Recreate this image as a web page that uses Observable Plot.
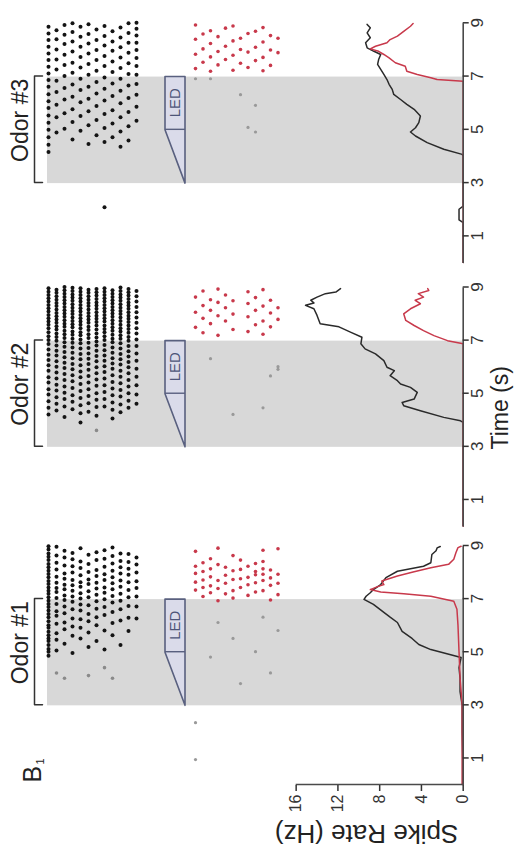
<!DOCTYPE html>
<html><head><meta charset="utf-8">
<script src="https://cdn.jsdelivr.net/npm/d3@7"></script>
<script src="https://cdn.jsdelivr.net/npm/@observablehq/plot@0.6"></script>
<style>
html,body{margin:0;padding:0;background:#fff;overflow:hidden;width:514px;height:857px;}
#fig{position:absolute;left:0;top:0;width:857px;height:514px;display:flex;transform-origin:0 0;transform:translate(0px,857px) rotate(-90deg);}
#fig svg{display:block;overflow:visible;}
</style></head><body><div id="fig"></div>
<script>
// ---------------- DATA ----------------
const odorLabels = ["Odor #1", "Odor #2", "Odor #3"];
const panelLetter = "B";
const panelIndex = "1";
const timeLabel = "Time (s)";
const rateLabel = "Spike Rate (Hz)";
const ledLabel = "LED";
const timeTicks = [1, 3, 5, 7, 9];
const rateTicks = [0, 4, 8, 12, 16];
const odorWindow = [3, 7];
const ledRampEnd = 5;

// spike-rate traces [time (s), rate (Hz)] : control (black) and LED (red)
const ctrlRate1 = [[0,0.05],[1,0.05],[2,0.1],[3,0.1],[3.5,0.3],[4.0,0.3],[4.4,0.4],[4.78,0.2],[5.08,3.1],[5.27,4.25],[5.5,4.9],[5.77,5.85],[6.1,6.3],[6.3,7.0],[6.48,7.6],[6.78,8.6],[6.97,9.5],[7.09,9.3],[7.22,8.9],[7.34,8.6],[7.53,7.9],[7.79,7.4],[8.03,6.3],[8.22,3.8],[8.35,3.1],[8.66,3.0],[8.8,2.6],[8.91,2.5],[8.96,2.2]];
const ledRate1 = [[0,0.1],[2,0.1],[3,0.1],[4,0.3],[5,0.4],[6,0.5],[6.6,0.6],[6.9,0.9],[7.09,3.1],[7.18,5.7],[7.25,7.9],[7.34,8.9],[7.45,8.2],[7.53,7.6],[7.66,7.8],[7.85,6.3],[8.0,4.8],[8.16,3.1],[8.29,1.4],[8.48,0.9],[8.73,0.7],[8.92,0.5],[8.97,0.2]];
const ctrlRate2 = [[0,0],[3.9,0],[3.96,0.26],[4.09,1.86],[4.34,4.1],[4.53,5.7],[4.65,5.85],[4.78,4.7],[5.03,4.4],[5.22,5.05],[5.35,6.0],[5.47,6.3],[5.66,7.0],[5.85,6.6],[5.98,7.3],[6.23,7.6],[6.48,8.4],[6.67,9.4],[6.86,9.8],[7.11,9.7],[7.3,10.8],[7.5,11.9],[7.62,13.7],[7.93,14.0],[8.18,14.3],[8.31,15.1],[8.4,14.3],[8.5,14.6],[8.62,14.0],[8.75,13.2],[8.81,12.2],[8.94,11.75]];
const ledRate2 = [[0,0],[6.86,0],[6.98,1.5],[7.17,2.8],[7.36,3.8],[7.55,4.7],[7.74,5.5],[7.99,5.7],[8.18,5.05],[8.37,4.1],[8.5,4.6],[8.62,3.8],[8.75,4.3],[8.87,3.3],[8.94,3.4]];
const ctrlRate3 = [[0,0],[1.5,0],[1.6,0.4],[2.0,0.4],[2.12,0],[4.0,0],[4.06,0.1],[4.25,1.86],[4.5,3.45],[4.75,4.57],[4.9,5.05],[5.06,4.57],[5.25,4.25],[5.5,4.1],[5.75,4.7],[5.94,5.4],[6.12,6.0],[6.31,6.65],[6.5,6.8],[6.69,7.1],[6.87,7.3],[7.06,7.6],[7.25,7.9],[7.44,8.2],[7.62,8.1],[7.81,7.9],[7.93,8.55],[8.06,9.2],[8.25,9.35],[8.44,8.9],[8.62,9.2],[8.81,8.9],[8.94,9.2]];
const ledRate3 = [[0,0],[6.81,0],[6.87,2.5],[6.94,3.1],[7.06,4.4],[7.18,5.4],[7.37,5.55],[7.5,6.5],[7.68,7.1],[7.81,7.6],[7.93,8.1],[8.02,8.9],[8.12,8.4],[8.25,7.3],[8.37,7.0],[8.5,6.3],[8.68,5.7],[8.87,5.05],[8.97,4.8]];

// rasters: one string of spike times (s) per trial
const ctrlSpikes1 = [
 "4.85 5.0 5.1 5.25 5.4 5.5 5.62 5.75 5.9 6.0 6.15 6.3 6.42 6.55 6.68 6.8 6.92 7.05 7.18 7.3 7.42 7.55 7.66 7.8 7.93 8.05 8.18 8.3 8.45 8.58 8.7 8.85 8.97",
 "5.05 5.45 5.7 6.05 6.35 6.52 6.8 7.02 7.25 7.4 7.6 7.82 8.1 8.35 8.62 8.95",
 "5.3 5.85 6.1 6.45 6.7 6.95 7.12 7.35 7.52 7.75 7.95 8.25 8.55 8.8",
 "4.95 5.6 5.95 6.25 6.6 6.88 7.08 7.3 7.5 7.7 7.98 8.22 8.48 8.72",
 "5.5 5.9 6.22 6.55 6.78 7.0 7.2 7.45 7.62 7.88 8.15 8.4 8.9",
 "5.18 5.72 6.15 6.42 6.75 7.05 7.28 7.55 7.72 8.0 8.3 8.65",
 "5.4 6.0 6.3 6.62 6.9 7.15 7.38 7.6 7.85 8.08 8.45 8.75",
 "5.08 5.8 6.38 6.68 6.98 7.22 7.42 7.7 7.92 8.2 8.5 8.82",
 "5.62 6.08 6.5 6.85 7.1 7.35 7.58 7.8 8.05 8.32 8.6 8.92",
 "5.25 6.18 6.6 6.92 7.18 7.45 7.68 7.95 8.18 8.42 8.7",
 "5.78 6.28 6.72 7.05 7.32 7.62 7.9 8.12 8.38 8.68",
 "6.25 6.7 7.08 7.4 7.65 7.98 8.28 8.55"];
const ctrlSpikes2 = [
 "4.2 4.45 4.7 4.95 5.15 5.4 5.6 5.85 6.05 6.25 6.45 6.65 6.85 7.0 7.15 7.3 7.45 7.58 7.7 7.82 7.95 8.08 8.2 8.32 8.45 8.58 8.7 8.82 8.95",
 "4.35 4.6 4.85 5.1 5.32 5.55 5.78 6.0 6.2 6.42 6.6 6.8 6.98 7.12 7.25 7.4 7.52 7.65 7.78 7.9 8.02 8.15 8.28 8.4 8.52 8.65 8.78 8.9",
 "4.1 4.5 4.78 5.02 5.25 5.5 5.72 5.95 6.15 6.35 6.55 6.75 6.92 7.08 7.22 7.35 7.5 7.62 7.75 7.88 8.0 8.12 8.25 8.38 8.5 8.62 8.75 8.88 9.0",
 "4.4 4.68 4.92 5.2 5.45 5.68 5.9 6.1 6.32 6.52 6.72 6.9 7.05 7.2 7.32 7.48 7.6 7.72 7.85 7.98 8.1 8.22 8.35 8.48 8.6 8.72 8.85 8.97",
 "3.9 4.25 4.55 4.82 5.08 5.35 5.6 5.82 6.05 6.28 6.48 6.68 6.88 7.02 7.18 7.3 7.45 7.58 7.7 7.82 7.95 8.08 8.2 8.32 8.45 8.58 8.7 8.82 8.95",
 "4.3 4.62 4.9 5.15 5.4 5.65 5.88 6.1 6.3 6.5 6.7 6.9 7.08 7.22 7.38 7.5 7.65 7.78 7.9 8.02 8.15 8.28 8.4 8.52 8.65 8.78 8.9",
 "4.15 4.48 4.75 5.0 5.28 5.52 5.75 5.98 6.2 6.4 6.6 6.8 6.95 7.1 7.25 7.4 7.55 7.68 7.8 7.92 8.05 8.18 8.3 8.42 8.55 8.68 8.8 8.92",
 "4.5 4.78 5.05 5.3 5.55 5.8 6.02 6.22 6.42 6.62 6.82 7.0 7.15 7.3 7.42 7.55 7.7 7.82 7.95 8.08 8.2 8.32 8.45 8.58 8.7 8.82 8.95",
 "4.05 4.38 4.65 4.92 5.18 5.42 5.68 5.92 6.12 6.32 6.52 6.72 6.92 7.05 7.2 7.35 7.48 7.62 7.75 7.88 8.0 8.12 8.25 8.38 8.5 8.62 8.75 8.88",
 "4.28 4.58 4.88 5.12 5.38 5.62 5.85 6.08 6.28 6.48 6.68 6.88 7.05 7.18 7.32 7.45 7.58 7.72 7.85 7.98 8.1 8.22 8.35 8.48 8.6 8.72 8.85 8.98",
 "4.45 4.72 5.0 5.25 5.5 5.75 5.98 6.18 6.38 6.58 6.78 6.98 7.12 7.28 7.42 7.55 7.68 7.8 7.92 8.05 8.18 8.3 8.42 8.55 8.68 8.8 8.92",
 "4.6 4.95 5.3 5.62 5.92 6.22 6.5 6.78 7.02 7.25 7.45 7.65 7.85 8.05 8.25 8.45 8.65 8.85"];
const ctrlSpikes3 = [
 "4.15 4.42 4.7 4.98 5.25 5.52 5.8 6.05 6.32 6.6 6.85 7.1 7.35 7.6 7.85 8.1 8.35 8.6 8.85",
 "4.88 5.45 5.92 6.4 6.82 7.25 7.62 8.0 8.38 8.72",
 "5.02 5.6 6.12 6.55 7.0 7.42 7.8 8.2 8.55 8.92",
 "4.62 5.28 5.75 6.22 6.68 7.12 7.5 7.92 8.3 8.65 8.98",
 "4.95 5.5 6.02 6.48 6.9 7.32 7.72 8.1 8.48 8.85",
 "4.45 5.15 5.68 6.15 6.6 7.05 7.45 7.85 8.22 8.58 8.95",
 "4.78 5.35 5.88 6.35 6.78 7.2 7.6 7.98 8.35 8.75",
 "2.07 4.52 5.05 5.58 6.08 6.52 6.95 7.38 7.75 8.15 8.5 8.88",
 "4.7 5.22 5.72 6.25 6.72 7.15 7.55 7.95 8.3 8.68",
 "4.35 4.92 5.45 5.98 6.45 6.9 7.3 7.7 8.08 8.45 8.82",
 "4.58 5.12 5.65 6.18 6.65 7.08 7.48 7.88 8.25 8.62 8.98",
 "5.32 5.85 6.3 6.7 7.05 7.38 7.68 7.98 8.25 8.52 8.78 9.0"];
const ledSpikes1 = [
 "7.32 7.62 7.95 8.22 8.78", "7.08 7.42 7.7 8.02 8.35", "7.22 7.48 7.82 8.12 8.5", "6.92 7.38 7.68 8.28 8.9",
 "7.18 7.58 7.88 8.18", "7.02 7.3 7.72 8.05 8.62", "7.42 7.75 8.1 8.45", "7.12 7.52 7.8 8.22",
 "7.25 7.6 7.9 8.02 8.32", "7.3 7.68 7.92 8.12 8.4 8.82", "6.95 7.5 7.78 8.08", "7.15 7.58 7.92 8.88"];
const ledSpikes2 = [
 "7.48 8.05 8.62", "7.28 7.82 8.3 8.85", "7.62 8.12 8.52", "7.18 7.92 8.42 8.92",
 "7.72 8.22 8.7", "7.4 7.98 8.48", "", "7.32 7.88 8.38 8.82",
 "7.58 8.12 8.6", "7.22 7.72 8.28 8.9", "7.5 8.02 8.5", "7.78 8.22"];
const ledSpikes3 = [
 "7.28 7.82 8.38 8.92", "7.52 8.02 8.58", "7.18 7.72 8.22 8.7", "7.42 7.92 8.48",
 "7.62 8.12 8.8", "7.22 7.78 8.32 8.88", "7.48 8.0 8.42", "7.32 7.9 8.6",
 "7.58 8.08 8.68", "7.2 7.7 8.28 8.82", "7.4 7.98 8.52", "7.88 8.42"];
// faint (grey-looking) spikes [trial, time]
const ctrlFaint1 = [[1,4.2],[2,4.0],[5,4.1],[7,4.4],[8,4.0]];
const ctrlFaint2 = [[6,3.6]];
const ctrlFaint3 = [];
const ledFaint1 = [[0,0.94],[0,2.33],[2,4.8],[3,6.1],[5,5.5],[6,3.8],[8,5.0],[9,6.3],[10,4.2],[11,5.8]];
const ledFaint2 = [[2,6.3],[5,4.2],[9,4.45],[10,5.65],[11,6.0],[11,5.9]];
const ledFaint3 = [[0,6.9],[2,6.9],[6,6.3],[7,5.07],[8,5.9],[8,4.9]];

// ---------------- LAYOUT ----------------
const BASE = 462.7, PXHZ = 10.44, H = 514;
const yOf = v => (BASE - v) / PXHZ;   // vertical layout px -> y units
const layout = [
  {w: 320, ml: 72, mr: 9},
  {w: 262, ml: 10.5, mr: 12.5},
  {w: 275, ml: 12, mr: 23.3}
];
const BLACK_V0 = 48, BLACK_STEP = 8, RED_V0 = 195, RED_STEP = 7.5;
const axisCol = "#4a4a4a", redCol = "#c8394b", ledStroke = "#59607f";

const toDots = (trials, v0, step) => trials.flatMap((s, i) =>
  s.trim().split(/\s+/).filter(Boolean).map(Number).map(t => ({t, y: yOf(v0 + step * i)})));
const toPairs = (arr, v0, step) => arr.map(([i, t]) => ({t, y: yOf(v0 + step * i)}));

const sets = [
  {odor: odorLabels[0], ctrl: ctrlRate1, led: ledRate1, cs: ctrlSpikes1, ls: ledSpikes1, cf: ctrlFaint1, lf: ledFaint1},
  {odor: odorLabels[1], ctrl: ctrlRate2, led: ledRate2, cs: ctrlSpikes2, ls: ledSpikes2, cf: ctrlFaint2, lf: ledFaint2},
  {odor: odorLabels[2], ctrl: ctrlRate3, led: ledRate3, cs: ctrlSpikes3, ls: ledSpikes3, cf: ctrlFaint3, lf: ledFaint3}
];

function panel(k) {
  const L = layout[k], S = sets[k];
  const [t0, t1] = odorWindow;
  const ledTop = yOf(165), ledBot = yOf(185);
  const marks = [
    Plot.rect([odorWindow], {x1: d => d[0], x2: d => d[1], y1: 0, y2: yOf(47), fill: "#d8d8d8"}),
    Plot.line([{t: t0, y: yOf(42)}, {t: t0, y: yOf(34)}, {t: t1, y: yOf(34)}, {t: t1, y: yOf(42)}],
      {x: "t", y: "y", stroke: "#333", strokeWidth: 1.5}),
    Plot.text([S.odor], {x: (t0 + t1) / 2, y: yOf(20), dx: 9, text: d => d, fontSize: 23, fill: "#222"}),
    Plot.dot(toPairs(S.cf, BLACK_V0, BLACK_STEP), {x: "t", y: "y", r: 1.8, fill: "#8a8a8a"}),
    Plot.dot(toDots(S.cs, BLACK_V0, BLACK_STEP), {x: "t", y: "y", r: 2.0, fill: "#141414"}),
    Plot.dot(toPairs(S.lf, RED_V0, RED_STEP), {x: "t", y: "y", r: 1.6, fill: "#999"}),
    Plot.dot(toDots(S.ls, RED_V0, RED_STEP), {x: "t", y: "y", r: 1.8, fill: redCol}),
    Plot.areaY([{t: t0, top: ledBot}, {t: ledRampEnd, top: ledTop}, {t: t1, top: ledTop}],
      {x: "t", y1: ledBot, y2: "top", fill: "#dadbea", stroke: ledStroke, strokeWidth: 1.6, curve: "linear"}),
    Plot.ruleX([ledRampEnd], {y1: ledBot, y2: ledTop, stroke: ledStroke, strokeWidth: 1.4}),
    Plot.text([ledLabel], {x: (ledRampEnd + t1) / 2, y: (ledTop + ledBot) / 2, text: d => d, fontSize: 15, fill: "#4d5578"}),
    Plot.line(S.ctrl, {x: d => d[0], y: d => d[1], stroke: "#2a2a2a", strokeWidth: 1.5}),
    Plot.line(S.led, {x: d => d[0], y: d => d[1], stroke: redCol, strokeWidth: 1.5}),
    Plot.ruleY([0], {x1: 0, x2: 9, stroke: axisCol, strokeWidth: 1.6}),
    Plot.axisX({ticks: timeTicks, tickSize: 6, tickPadding: 2, fontSize: 17, label: null, color: "#333", strokeWidth: 1.5})
  ];
  if (k === 0) {
    marks.push(
      Plot.ruleX([0], {y1: 0, y2: 16, stroke: axisCol, strokeWidth: 1.6}),
      Plot.axisY({ticks: rateTicks, tickSize: 6, tickPadding: 4, fontSize: 16, label: null, color: "#333", strokeWidth: 1.5}),
      Plot.text([rateLabel], {x: 0, y: yOf(366), dx: -48.5, rotate: -90, text: d => d, fontSize: 26, fill: "#222"}),
      Plot.text([panelLetter], {x: 0, y: yOf(40), dx: 2, text: d => d, textAnchor: "start", lineAnchor: "bottom", fontSize: 25, fill: "#222"}),
      Plot.text([panelIndex], {x: 0, y: yOf(43), dx: 20, text: d => d, textAnchor: "start", lineAnchor: "bottom", fontSize: 11, fill: "#222"})
    );
  }
  if (k === 1) {
    marks.push(Plot.text([timeLabel], {x: 4.45, y: 0, dy: 37, text: d => d, fontSize: 23, fill: "#222"}));
  }
  const opts = {
    width: L.w, height: H,
    marginLeft: L.ml, marginRight: L.mr, marginTop: 0, marginBottom: H - BASE,
    x: {domain: [0, 9]},
    y: {domain: [0, BASE / PXHZ]},
    style: {fontFamily: "'Liberation Sans', Arial, sans-serif", background: "transparent", overflow: "visible"},
    marks
  };
  if (k !== 0) opts.y.axis = null;
  return Plot.plot(opts);
}

const fig = document.getElementById("fig");
for (let k = 0; k < 3; k++) fig.appendChild(panel(k));
</script>
</body></html>
